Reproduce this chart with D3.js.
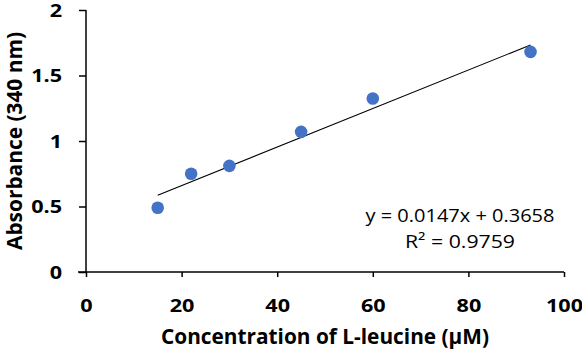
<!DOCTYPE html>
<html>
<head>
<meta charset="utf-8">
<script src="https://cdn.jsdelivr.net/npm/d3@7"></script>
<style>
    body { margin: 0; background: #fff; }
    .tick text { font-family: "Open Sans", sans-serif; font-weight: bold; font-size: 18px; fill: #000; }
    .axis-title { font-family: "Open Sans", sans-serif; font-weight: bold; font-size: 21px; fill: #000; }
    .eq { font-family: "Open Sans", sans-serif; font-size: 18px; fill: #000; }
</style>
</head>
<body>
<div id="chart"></div>
<script>
// data
const concentration = [15, 22, 30, 45, 60, 93];
const absorbance = [0.49, 0.75, 0.81, 1.07, 1.325, 1.68];
const slope = 0.0147, intercept = 0.3658;
const xTicks = [0, 20, 40, 60, 80, 100];
const yTicks = [0, 0.5, 1, 1.5, 2];

let width = 582, height = 349;
let margin = {top: 10, right: 18, bottom: 77, left: 86};

let svg = d3.select("#chart").append("svg")
    .attr("width", width)
    .attr("height", height);

let x = d3.scaleLinear().domain([0, 100]).range([margin.left, width - margin.right]);
let y = d3.scaleLinear().domain([0, 2]).range([height - margin.bottom, margin.top]);

// y axis
let yAxis = svg.append("g")
    .attr("transform", `translate(${margin.left},0)`)
    .call(d3.axisLeft(y).tickValues(yTicks).tickFormat(d3.format("")).tickSize(7).tickPadding(17));
yAxis.selectAll(".tick text").attr("dy", "0.36em");
// x axis
let xAxis = svg.append("g")
    .attr("transform", `translate(0,${y(0)})`)
    .call(d3.axisBottom(x).tickValues(xTicks).tickSize(5).tickPadding(22));

[xAxis, yAxis].forEach(a => {
    a.select(".domain").attr("stroke", "#000").attr("stroke-width", 1.5);
    a.selectAll(".tick line").attr("stroke", "#000").attr("stroke-width", 1.5);
    // the reference glyphs are wider than Open Sans
    a.selectAll(".tick text").each(function() {
        let len = this.getComputedTextLength();
        d3.select(this).attr("textLength", len * 1.2).attr("lengthAdjust", "spacingAndGlyphs");
    });
});
yAxis.select(".domain").attr("d", `M0,${y(2)}V${y(0)}`);
xAxis.select(".domain").attr("d", `M${x(0) - 8},0H${x(100)}`);

// trendline
let x0 = d3.min(concentration), x1 = d3.max(concentration);
svg.append("line")
    .attr("x1", x(x0)).attr("y1", y(slope * x0 + intercept))
    .attr("x2", x(x1)).attr("y2", y(slope * x1 + intercept))
    .attr("stroke", "#000")
    .attr("stroke-width", 1.1);

// points
svg.selectAll(".dot")
    .data(concentration)
    .enter().append("circle")
    .attr("class", "dot")
    .attr("cx", d => x(d))
    .attr("cy", (d, i) => y(absorbance[i]))
    .attr("r", 6.3)
    .attr("fill", "#4472C4");

// equation
svg.append("text").attr("class", "eq")
    .attr("x", 460).attr("y", 222)
    .attr("text-anchor", "middle")
    .attr("textLength", 189).attr("lengthAdjust", "spacingAndGlyphs")
    .text("y = 0.0147x + 0.3658");
svg.append("text").attr("class", "eq")
    .attr("x", 460).attr("y", 248)
    .attr("text-anchor", "middle")
    .attr("textLength", 110).attr("lengthAdjust", "spacingAndGlyphs")
    .text("R² = 0.9759");

// titles
svg.append("text").attr("class", "axis-title")
    .attr("x", (x(0) + x(100)) / 2).attr("y", 344)
    .attr("text-anchor", "middle")
    .attr("textLength", 328).attr("lengthAdjust", "spacingAndGlyphs")
    .text("Concentration of L-leucine (μM)");
svg.append("text").attr("class", "axis-title")
    .attr("transform", `translate(21.5,${(y(0) + y(2)) / 2}) rotate(-90)`)
    .attr("text-anchor", "middle")
    .attr("textLength", 218).attr("lengthAdjust", "spacingAndGlyphs")
    .text("Absorbance (340 nm)");
</script>
</body>
</html>
